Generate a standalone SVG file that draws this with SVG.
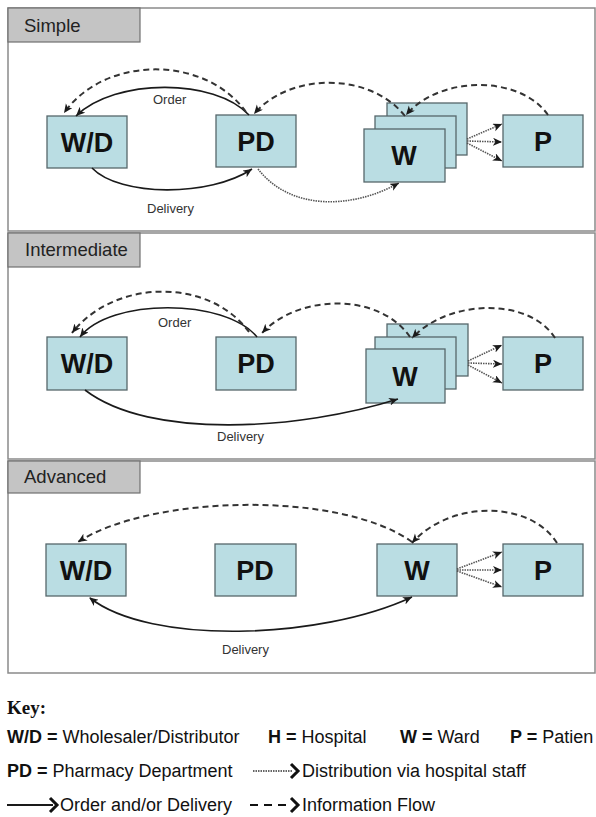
<svg xmlns="http://www.w3.org/2000/svg" width="596" height="817" viewBox="0 0 596 817">
<defs>
<style>
.frame{fill:#fff;stroke:#8a8a8a;stroke-width:1.5}
.tab{fill:#c4c4c4;stroke:#707070;stroke-width:1.2}
.tabt{font-family:"Liberation Sans",Arial,sans-serif;font-size:18.5px;fill:#222}
.box{fill:#badde3;stroke:#56676b;stroke-width:1.3}
.bt{font-family:"Liberation Sans",Arial,sans-serif;font-size:27px;font-weight:bold;fill:#111;text-anchor:middle}
.lbl{font-family:"Liberation Sans",Arial,sans-serif;font-size:13px;fill:#333}
.solid{fill:none;stroke:#1a1a1a;stroke-width:1.6}
.dash{fill:none;stroke:#333;stroke-width:2;stroke-dasharray:6 4}
.dot{fill:none;stroke:#555;stroke-width:1.6;stroke-dasharray:1.5 1}
.kt{font-family:"Liberation Sans",Arial,sans-serif;font-size:18px;fill:#111}
.kb{font-weight:bold}
.key{font-family:"Liberation Serif","Times New Roman",serif;font-size:19px;font-weight:bold;fill:#111}
.chev{fill:none;stroke:#111;stroke-width:3;stroke-linejoin:miter}
</style>
<marker id="ah" markerUnits="userSpaceOnUse" markerWidth="10" markerHeight="10" refX="9" refY="4" orient="auto">
<path d="M0,0 L9,4 L0,8 L2.5,4 z" fill="#1a1a1a"/>
</marker>
<marker id="ahs" markerUnits="userSpaceOnUse" markerWidth="10" markerHeight="10" refX="1" refY="4" orient="auto">
<path d="M9,0 L0,4 L9,8 L6.5,4 z" fill="#1a1a1a"/>
</marker>
</defs>

<!-- Panels -->
<g id="panel-simple">
<rect class="frame" x="8" y="8" width="587" height="223"/>
<rect class="tab" x="8" y="8" width="132" height="34"/>
<text class="tabt" x="24" y="32">Simple</text>
</g>
<g id="panel-intermediate">
<rect class="frame" x="8" y="233" width="587" height="226"/>
<rect class="tab" x="8" y="233" width="132" height="34"/>
<text class="tabt" x="25" y="256">Intermediate</text>
</g>
<g id="panel-advanced">
<rect class="frame" x="8" y="461" width="587" height="212"/>
<rect class="tab" x="8" y="461" width="132" height="32"/>
<text class="tabt" x="24" y="483">Advanced</text>
</g>

<!-- Nodes: Simple -->
<g id="s-wd"><rect class="box" x="47" y="116" width="80" height="52"/><text class="bt" x="87" y="152">W/D</text></g>
<g id="s-pd"><rect class="box" x="216" y="115" width="80" height="52"/><text class="bt" x="256" y="151">PD</text></g>
<g id="s-w">
<rect class="box" x="387" y="103" width="80" height="52"/>
<rect class="box" x="375" y="116" width="81" height="52"/>
<rect class="box" x="364" y="129" width="81" height="53"/>
<text class="bt" x="404" y="165">W</text>
</g>
<g id="s-p"><rect class="box" x="503" y="115" width="80" height="52"/><text class="bt" x="543" y="151">P</text></g>

<!-- Nodes: Intermediate -->
<g id="i-wd"><rect class="box" x="47" y="337" width="80" height="53"/><text class="bt" x="87" y="373">W/D</text></g>
<g id="i-pd"><rect class="box" x="216" y="337" width="80" height="53"/><text class="bt" x="256" y="373">PD</text></g>
<g id="i-w">
<rect class="box" x="387" y="324" width="81" height="52"/>
<rect class="box" x="375" y="337" width="81" height="52"/>
<rect class="box" x="366" y="349" width="79" height="54"/>
<text class="bt" x="405" y="386">W</text>
</g>
<g id="i-p"><rect class="box" x="503" y="337" width="80" height="53"/><text class="bt" x="543" y="373">P</text></g>

<!-- Nodes: Advanced -->
<g id="a-wd"><rect class="box" x="46" y="544" width="80" height="52"/><text class="bt" x="86" y="580">W/D</text></g>
<g id="a-pd"><rect class="box" x="215" y="544" width="81" height="52"/><text class="bt" x="255" y="580">PD</text></g>
<g id="a-w"><rect class="box" x="377" y="544" width="80" height="52"/><text class="bt" x="417" y="580">W</text></g>
<g id="a-p"><rect class="box" x="503" y="544" width="80" height="52"/><text class="bt" x="543" y="580">P</text></g>

<!-- Connectors -->
<g id="connectors">
<!-- Simple -->
<path class="solid" d="M249,115 C215,78 115,78 76,116" marker-end="url(#ah)"/>
<path class="dash" d="M246,112 C205,55 105,55 64,113" marker-end="url(#ah)"/>
<path class="dash" d="M405,116 C370,72 290,72 254,114" marker-end="url(#ah)"/>
<path class="dash" d="M548,115 C520,75 440,75 406,115" marker-end="url(#ah)"/>
<path class="solid" d="M92,168 C120,197 210,197 252,169" marker-end="url(#ah)"/>
<path class="dot" d="M258,169 C290,210 350,210 399,183" marker-end="url(#ah)"/>
<path class="dot" d="M467,139 L502,124" marker-end="url(#ah)"/>
<path class="dot" d="M467,141 L502,142" marker-end="url(#ah)"/>
<path class="dot" d="M467,143 L502,161" marker-end="url(#ah)"/>
<!-- Intermediate -->
<path class="solid" d="M257,337 C225,298 110,298 80,337" marker-end="url(#ah)"/>
<path class="dash" d="M249,332 C210,278 115,278 72,333" marker-end="url(#ah)"/>
<path class="dash" d="M410,337 C380,293 300,293 262,333" marker-end="url(#ah)"/>
<path class="dash" d="M555,338 C530,298 450,298 412,338" marker-end="url(#ah)"/>
<path class="solid" d="M85,390 C150,440 300,430 398,399" marker-end="url(#ah)"/>
<path class="dot" d="M468,361 L502,345" marker-end="url(#ah)"/>
<path class="dot" d="M468,363 L502,364" marker-end="url(#ah)"/>
<path class="dot" d="M468,365 L502,383" marker-end="url(#ah)"/>
<!-- Advanced -->
<path class="dash" d="M412,542 C340,490 150,495 78,542" marker-end="url(#ah)"/>
<path class="dash" d="M557,543 C530,500 450,500 412,543" marker-end="url(#ah)"/>
<path class="solid" d="M90,598 C150,645 320,640 412,597" marker-start="url(#ahs)" marker-end="url(#ah)"/>
<path class="dot" d="M457,569 L502,552" marker-end="url(#ah)"/>
<path class="dot" d="M457,570 L502,570" marker-end="url(#ah)"/>
<path class="dot" d="M457,571 L502,587" marker-end="url(#ah)"/>
</g>

<!-- Connector labels -->
<g id="labels">
<text class="lbl" x="153" y="104">Order</text>
<text class="lbl" x="147" y="213">Delivery</text>
<text class="lbl" x="158" y="327">Order</text>
<text class="lbl" x="217" y="441">Delivery</text>
<text class="lbl" x="222" y="654">Delivery</text>
</g>

<!-- Key -->
<g id="key">
<text class="key" x="7" y="714">Key:</text>
<text class="kt" x="7" y="743"><tspan class="kb">W/D = </tspan><tspan>Wholesaler/Distributor</tspan></text>
<text class="kt" x="268" y="743"><tspan class="kb">H = </tspan><tspan>Hospital</tspan></text>
<text class="kt" x="400" y="743"><tspan class="kb">W = </tspan><tspan>Ward</tspan></text>
<text class="kt" x="510" y="743"><tspan class="kb">P = </tspan><tspan>Patien</tspan></text>
<text class="kt" x="7" y="777"><tspan class="kb">PD = </tspan><tspan>Pharmacy Department</tspan></text>
<path class="dot" d="M253,771 L292,771" style="stroke:#333"/>
<path class="chev" d="M291,764 L298,771 L291,778"/>
<text class="kt" x="302" y="777">Distribution via hospital staff</text>
<path class="solid" d="M7,805 L53,805" style="stroke-width:2"/>
<path class="chev" d="M50,798 L57,805 L50,812"/>
<text class="kt" x="60" y="811">Order and/or Delivery</text>
<path class="dash" d="M250,805 L292,805" style="stroke:#111;stroke-dasharray:8 6"/>
<path class="chev" d="M291,798 L298,805 L291,812"/>
<text class="kt" x="302" y="811">Information Flow</text>
</g>
</svg>
